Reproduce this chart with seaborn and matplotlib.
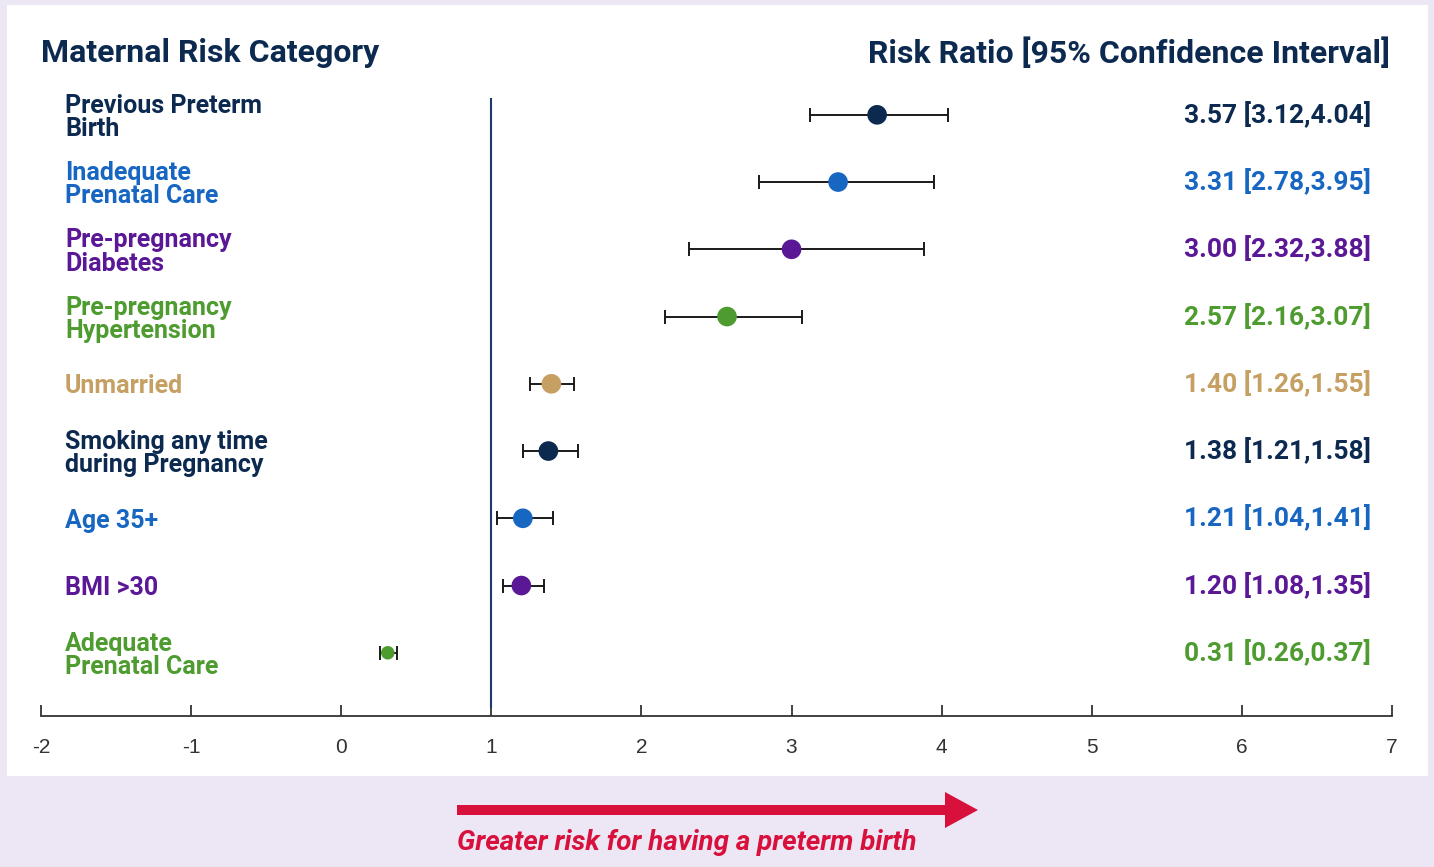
"""
Forest plot of maternal risk factors for preterm birth (risk ratio with 95% CI).
"""

import numpy as np
import pandas as pd
import matplotlib.pyplot as plt
from matplotlib.patches import Rectangle, FancyArrow
from matplotlib.transforms import blended_transform_factory
import seaborn as sns

# data
categories = [
    "Previous Preterm\nBirth",
    "Inadequate\nPrenatal Care",
    "Pre-pregnancy\nDiabetes",
    "Pre-pregnancy\nHypertension",
    "Unmarried",
    "Smoking any time\nduring Pregnancy",
    "Age 35+",
    "BMI >30",
    "Adequate\nPrenatal Care",
]
risk_ratio = [3.57, 3.31, 3.00, 2.57, 1.40, 1.38, 1.21, 1.20, 0.31]
ci_low = [3.12, 2.78, 2.32, 2.16, 1.26, 1.21, 1.04, 1.08, 0.26]
ci_high = [4.04, 3.95, 3.88, 3.07, 1.55, 1.58, 1.41, 1.35, 0.37]
x_ticks = [-2, -1, 0, 1, 2, 3, 4, 5, 6, 7]

NAVY = "#0c2a50"
BLUE = "#1766c2"
PURPLE = "#5a1796"
GREEN = "#4e9c30"
TAN = "#c5a062"
RED = "#d8103c"
row_colors = [NAVY, BLUE, PURPLE, GREEN, TAN, NAVY, BLUE, PURPLE, GREEN]

df = pd.DataFrame({
    "category": categories,
    "rr": risk_ratio,
    "lo": ci_low,
    "hi": ci_high,
})
df["row"] = np.arange(len(df))
df["label"] = [f"{r:.2f} [{l:.2f},{h:.2f}]" for r, l, h in zip(risk_ratio, ci_low, ci_high)]

sns.set_theme(style="white")
plt.rcParams["font.family"] = ["Roboto", "DejaVu Sans"]

W, H = 1434, 867
fig = plt.figure(figsize=(W / 100, H / 100), dpi=100)
fig.patch.set_facecolor("#ede6f5")

# white panel behind the plot
fig.patches.append(Rectangle((7 / W, 1 - 776 / H), (1428 - 7) / W, (776 - 5) / H,
                             transform=fig.transFigure, facecolor="white",
                             edgecolor="none", zorder=-5))

ax = fig.add_axes([41 / W, 1 - 716 / H, (1392 - 41) / W, (716 - 98) / H])
ax.set_facecolor("none")
ax.set_zorder(2)

# error bars
ax.errorbar(df["rr"], df["row"],
            xerr=[df["rr"] - df["lo"], df["hi"] - df["rr"]],
            fmt="none", ecolor="#1a1a1a", elinewidth=1.4, capsize=5,
            capthick=1.4, zorder=2)

# points
sizes = [200] * 8 + [95]
sns.scatterplot(data=df, x="rr", y="row", hue="category",
                palette=row_colors, size="category", sizes=sizes,
                legend=False, linewidth=0, ax=ax, zorder=3)

# reference line at RR = 1
ax.vlines(1, -0.25, 8.82, color="#1b3a6b", linewidth=1.5, zorder=1)

ax.set_xlim(-2, 7)
ax.set_ylim(8.94, -0.25)
ax.set_xticks(x_ticks)
ax.set_xticklabels([str(t) for t in x_ticks], fontfamily="Liberation Sans",
                   fontsize=15, color="#333333")
ax.set_yticks([])
ax.set_xlabel("")
ax.set_ylabel("")
for side in ["top", "left", "right"]:
    ax.spines[side].set_visible(False)
ax.spines["bottom"].set_color("#333333")
ax.spines["bottom"].set_linewidth(1.3)
ax.tick_params(axis="x", bottom=True, direction="in", length=8, width=1.3,
               color="#333333", pad=16)

# category labels and CI text
trans = blended_transform_factory(fig.transFigure, ax.transData)
for i, row in df.iterrows():
    ax.text(65 / W, row["row"] + 0.04, row["category"], transform=trans,
            ha="left", va="center", fontsize=18, fontweight="bold",
            color=row_colors[i], linespacing=0.95)
    ax.text(1371 / W, row["row"], row["label"], transform=trans,
            ha="right", va="center", fontsize=19, fontweight="bold",
            color=row_colors[i])

# headers
fig.text(41 / W, 1 - 53 / H, "Maternal Risk Category", ha="left", va="center",
         fontsize=23, fontweight="bold", color=NAVY)
fig.text(1390 / W, 1 - 53 / H, "Risk Ratio [95% Confidence Interval]",
         ha="right", va="center", fontsize=23, fontweight="bold", color=NAVY)

# arrow and caption
fig.patches.append(FancyArrow(457 / W, 1 - 810 / H, (945 - 457) / W, 0,
                              width=10 / H, head_width=36 / H,
                              head_length=33 / W, length_includes_head=False,
                              transform=fig.transFigure, color=RED,
                              linewidth=0))
fig.text(457 / W, 1 - 842 / H, "Greater risk for having a preterm birth",
         ha="left", va="center", fontsize=20, fontweight="bold",
         fontstyle="italic", color=RED)

plt.savefig("out.png", dpi=100, facecolor=fig.get_facecolor())
